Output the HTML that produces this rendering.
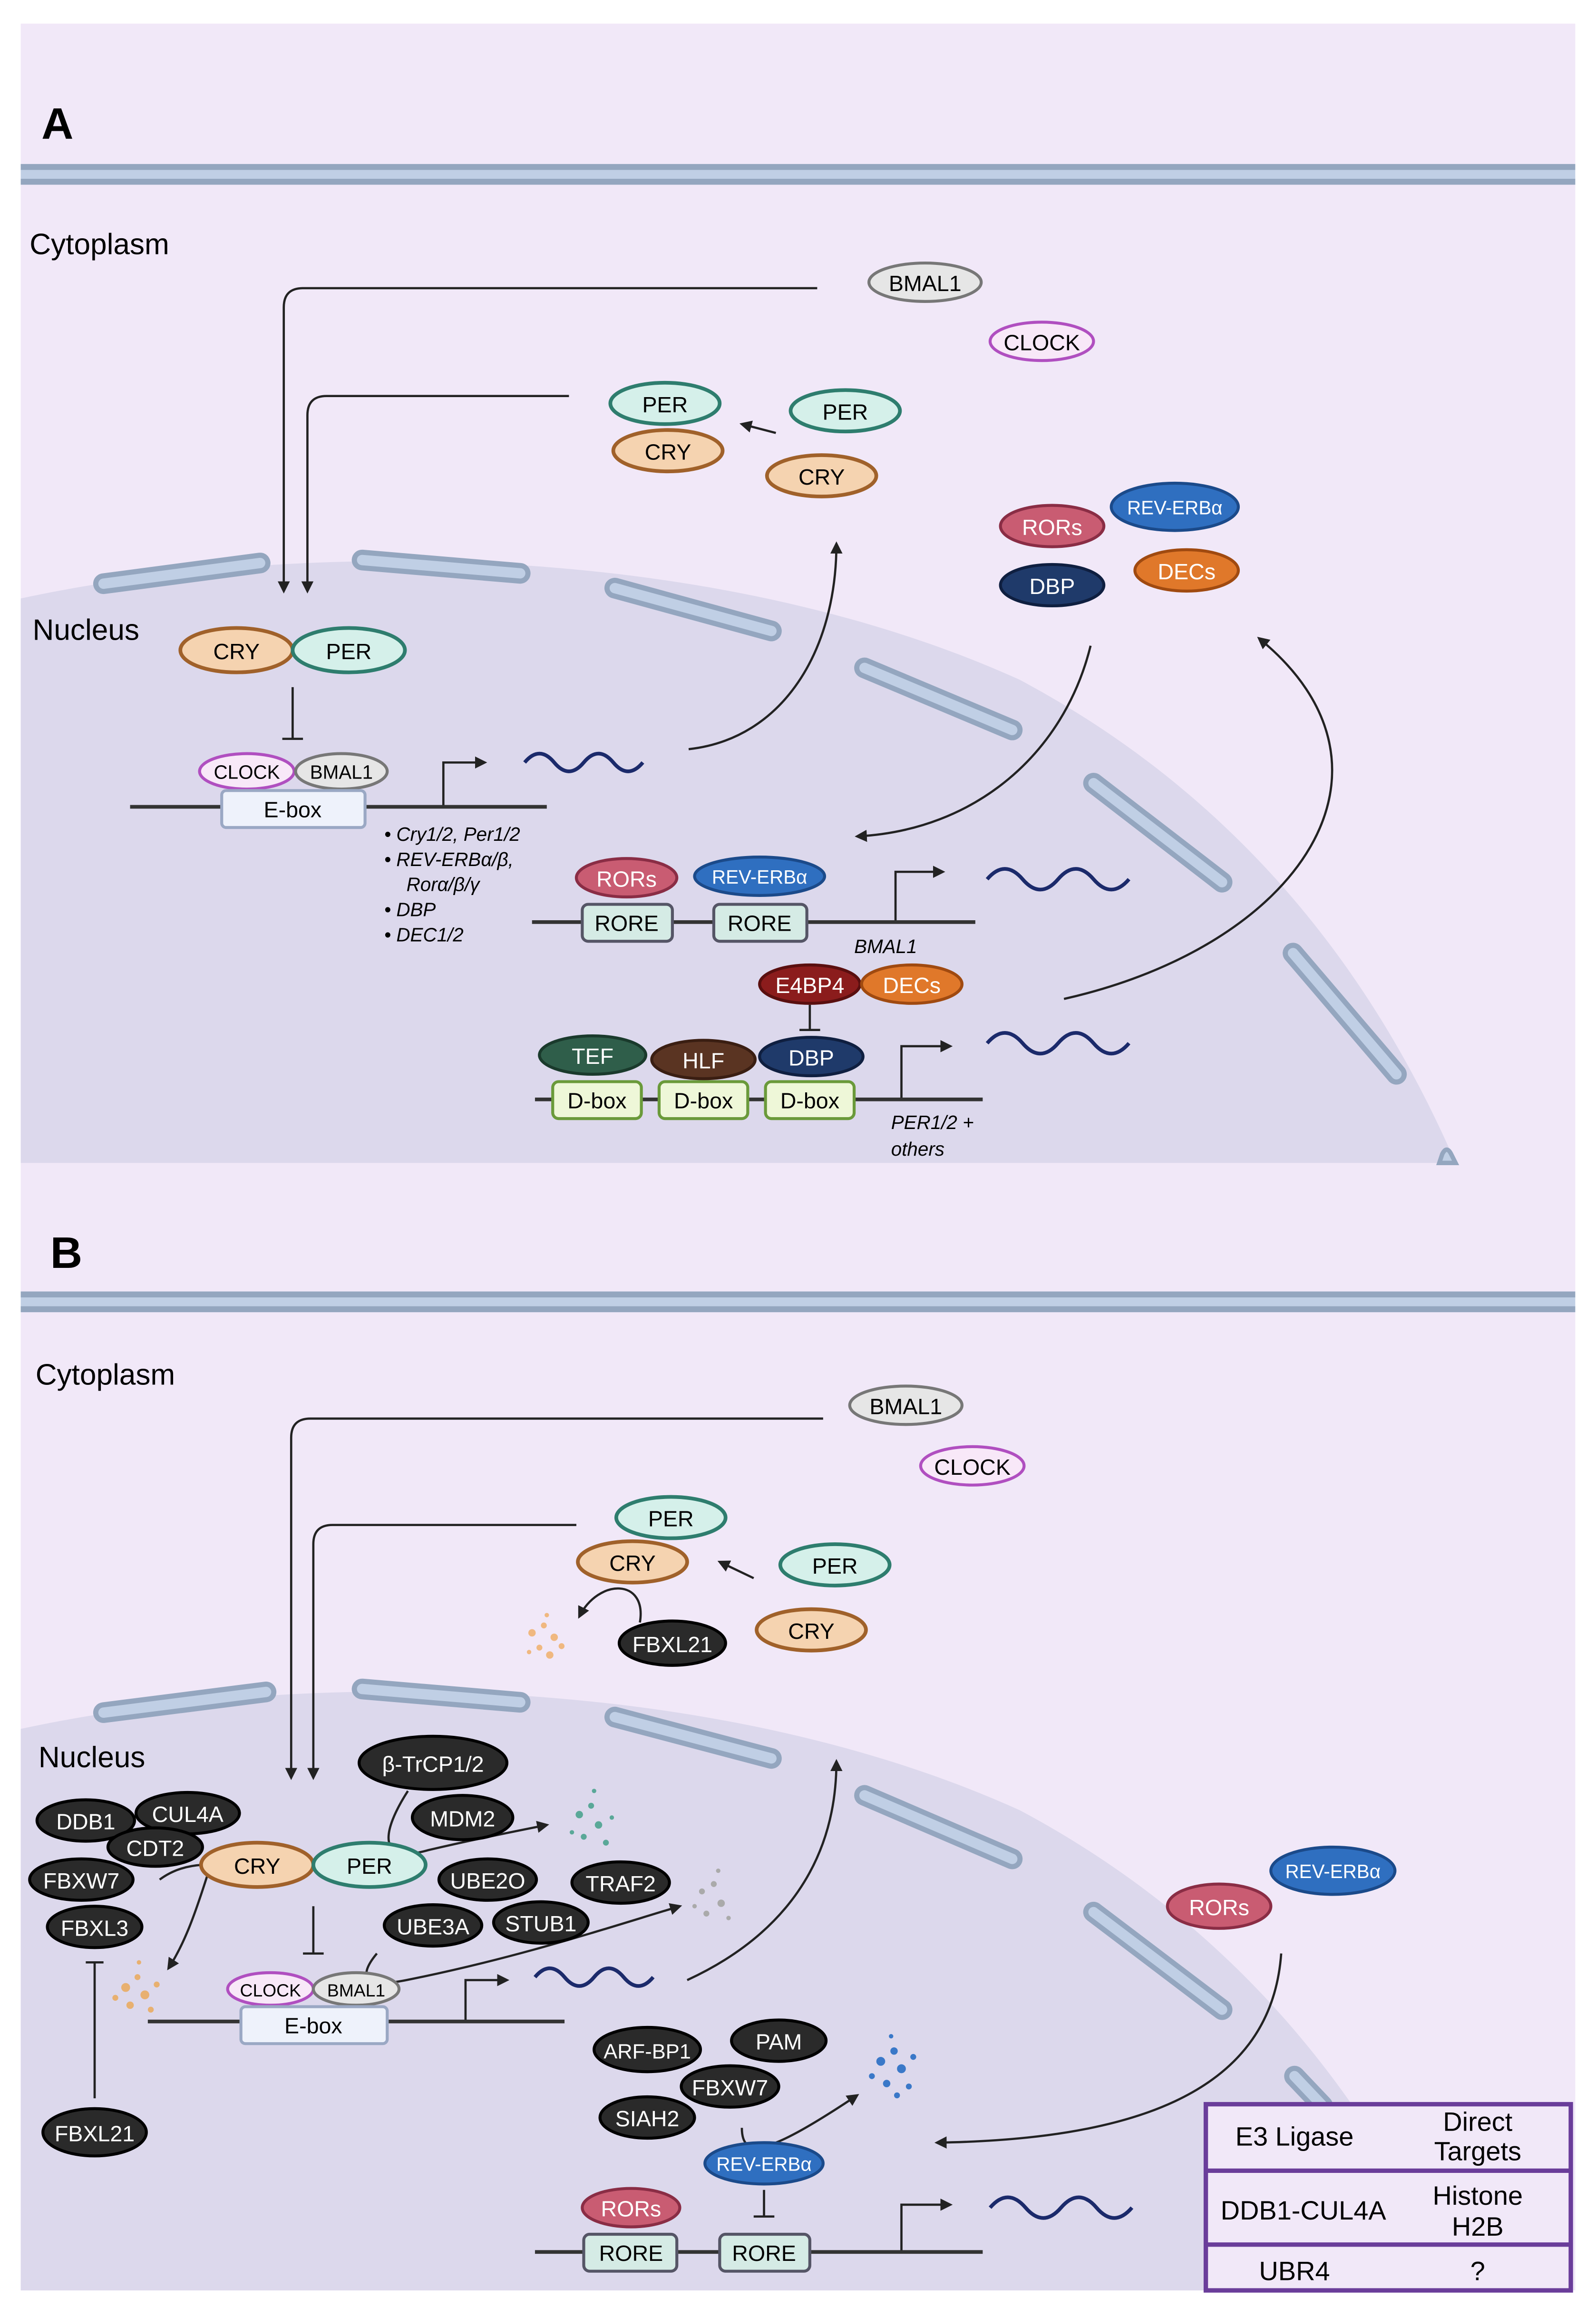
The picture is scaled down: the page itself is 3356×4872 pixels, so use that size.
<!DOCTYPE html>
<html><head><meta charset="utf-8"><style>
html,body{margin:0;padding:0;background:#fff}
svg{display:block}
text{font-family:"Liberation Sans",sans-serif}
</style></head><body>
<svg width="3356" height="4872" viewBox="0 0 1080 1568" xmlns="http://www.w3.org/2000/svg">
<defs>
<marker id="ah" viewBox="0 0 10 10" refX="8" refY="5" markerWidth="5.5" markerHeight="5.5" orient="auto-start-reverse"><path d="M0,0 L10,5 L0,10 Z" fill="#222"/></marker>
</defs>
<rect width="1080" height="1568" fill="#fff"/>
<!-- Panel A -->
<rect x="14" y="16" width="1052" height="1534" fill="#f1e8f8"/>
<path d="M14,405 C200,365 480,365 690,460 C840,540 930,660 985,787 L14,787 Z" fill="#dcd8ec"/>
<rect x="14" y="111" width="1052" height="14" fill="#c0cfe5"/>
<rect x="14" y="111" width="1052" height="4" fill="#94a6bf"/><rect x="14" y="121" width="1052" height="4" fill="#94a6bf"/>
<text x="28" y="94" font-size="30" font-weight="bold">A</text>
<text x="20" y="172" font-size="20">Cytoplasm</text>
<text x="22" y="433" font-size="20">Nucleus</text>
<g fill="#c0cfe5" stroke="#94a6bf" stroke-width="4" stroke-linecap="round">
<line x1="70" y1="395" x2="176" y2="381" stroke-width="14"/><line x1="245" y1="379" x2="352" y2="388" stroke-width="14"/>
<line x1="416" y1="398" x2="522" y2="427" stroke-width="14"/><line x1="585" y1="452" x2="685" y2="494" stroke-width="14"/>
<line x1="740" y1="530" x2="827" y2="597" stroke-width="14"/><line x1="875" y1="645" x2="945" y2="727" stroke-width="14"/>
</g>
<g fill="none" stroke="#c0cfe5" stroke-width="7" stroke-linecap="round">
<line x1="70" y1="395" x2="176" y2="381"/><line x1="245" y1="379" x2="352" y2="388"/>
<line x1="416" y1="398" x2="522" y2="427"/><line x1="585" y1="452" x2="685" y2="494"/>
<line x1="740" y1="530" x2="827" y2="597"/><line x1="875" y1="645" x2="945" y2="727"/>
</g>
<path d="M974,787 L976,781 Q979,775 982,781 L985,787 Z" fill="#c0cfe5" stroke="#94a6bf" stroke-width="3"/>
<!-- arrows A -->
<g fill="none" stroke="#222" stroke-width="1.5">
<path d="M553,195 H205 Q192,195 192,208 V400" marker-end="url(#ah)"/>
<path d="M385,268 H221 Q208,268 208,281 V400" marker-end="url(#ah)"/>
<path d="M525,293 L502,287" marker-end="url(#ah)"/>
<path d="M198,465 V500 M191,500 H205"/>
<path d="M300,546 V516 H328" marker-end="url(#ah)"/>
<path d="M466,507 C530,500 566,440 566,368" marker-end="url(#ah)"/>
<path d="M738,437 C720,510 660,562 580,566" marker-end="url(#ah)"/>
<path d="M606,624 V590 H638" marker-end="url(#ah)"/>
<path d="M548,680 V697 M541,697 H555"/>
<path d="M610,744 V708 H643" marker-end="url(#ah)"/>
<path d="M720,676 C880,640 960,520 852,432" marker-end="url(#ah)"/>
</g>
<g fill="none" stroke="#1b2a6b" stroke-width="2.5">
<path d="M355,516 q10,-12 20,0 t20,0 t20,0 t20,0"/>
<path d="M668,595 q12,-14 24,0 t24,0 t24,0 t24,0"/>
<path d="M668,706 q12,-14 24,0 t24,0 t24,0 t24,0"/>
</g>
<g stroke="#333" stroke-width="2.5"><line x1="88" y1="546" x2="370" y2="546"/><line x1="360" y1="624" x2="660" y2="624"/><line x1="362" y1="744" x2="665" y2="744"/></g>
<g font-size="15" text-anchor="middle">
<ellipse cx="626" cy="191" rx="38" ry="13" fill="#e6e6e6" stroke="#777" stroke-width="2"/><text x="626" y="197">BMAL1</text>
<ellipse cx="705" cy="231" rx="35" ry="13" fill="#f8e8f8" stroke="#b04fc0" stroke-width="2"/><text x="705" y="237">CLOCK</text>
<ellipse cx="450" cy="273" rx="37" ry="14" fill="#d5f0ea" stroke="#2e7d6e" stroke-width="2.5"/><text x="450" y="279">PER</text>
<ellipse cx="452" cy="305" rx="37" ry="14" fill="#f5d3b0" stroke="#a0612a" stroke-width="2.5"/><text x="452" y="311">CRY</text>
<ellipse cx="572" cy="278" rx="37" ry="14" fill="#d5f0ea" stroke="#2e7d6e" stroke-width="2.5"/><text x="572" y="284">PER</text>
<ellipse cx="556" cy="322" rx="37" ry="14" fill="#f5d3b0" stroke="#a0612a" stroke-width="2.5"/><text x="556" y="328">CRY</text>
<ellipse cx="712" cy="356" rx="35" ry="14" fill="#c95c72" stroke="#8a2d45" stroke-width="2"/><text x="712" y="362" fill="#fff">RORs</text>
<ellipse cx="795" cy="343" rx="43" ry="16" fill="#2f6fc0" stroke="#1b4a8a" stroke-width="2"/><text x="795" y="348" fill="#fff" font-size="13">REV-ERBα</text>
<ellipse cx="712" cy="396" rx="35" ry="14" fill="#1f3a6a" stroke="#0f1f40" stroke-width="2"/><text x="712" y="402" fill="#fff">DBP</text>
<ellipse cx="803" cy="386" rx="35" ry="14" fill="#e0782a" stroke="#a04a10" stroke-width="2"/><text x="803" y="392" fill="#fff">DECs</text>
<ellipse cx="160" cy="440" rx="38" ry="15" fill="#f5d3b0" stroke="#a0612a" stroke-width="2.5"/><text x="160" y="446">CRY</text>
<ellipse cx="236" cy="440" rx="38" ry="15" fill="#d5f0ea" stroke="#2e7d6e" stroke-width="2.5"/><text x="236" y="446">PER</text>
<ellipse cx="167" cy="522" rx="32" ry="12" fill="#f8e8f8" stroke="#b04fc0" stroke-width="2"/><text x="167" y="527" font-size="13">CLOCK</text>
<ellipse cx="231" cy="522" rx="31" ry="12" fill="#e6e6e6" stroke="#777" stroke-width="2"/><text x="231" y="527" font-size="13">BMAL1</text>
<rect x="150" y="535" width="97" height="25" rx="3" fill="#eef2fb" stroke="#9aa8c4" stroke-width="2"/><text x="198" y="553">E-box</text>
<ellipse cx="424" cy="594" rx="34" ry="13" fill="#c95c72" stroke="#8a2d45" stroke-width="2"/><text x="424" y="600" fill="#fff">RORs</text>
<ellipse cx="514" cy="593" rx="44" ry="13" fill="#2f6fc0" stroke="#1b4a8a" stroke-width="2"/><text x="514" y="598" fill="#fff" font-size="13">REV-ERBα</text>
<rect x="394" y="612" width="61" height="25" rx="4" fill="#d5ebe5" stroke="#556" stroke-width="2"/><text x="424" y="630">RORE</text>
<rect x="483" y="612" width="63" height="25" rx="4" fill="#d5ebe5" stroke="#556" stroke-width="2"/><text x="514" y="630">RORE</text>
<ellipse cx="548" cy="666" rx="34" ry="13" fill="#8b1c1c" stroke="#5a0f0f" stroke-width="2"/><text x="548" y="672" fill="#fff">E4BP4</text>
<ellipse cx="617" cy="666" rx="34" ry="13" fill="#e0782a" stroke="#a04a10" stroke-width="2"/><text x="617" y="672" fill="#fff">DECs</text>
<ellipse cx="401" cy="714" rx="36" ry="13" fill="#2f5e4a" stroke="#1a3a2c" stroke-width="2"/><text x="401" y="720" fill="#fff">TEF</text>
<ellipse cx="476" cy="717" rx="35" ry="13" fill="#5a3422" stroke="#3a1e12" stroke-width="2"/><text x="476" y="723" fill="#fff">HLF</text>
<ellipse cx="549" cy="715" rx="35" ry="13" fill="#1f3a6a" stroke="#0f1f40" stroke-width="2"/><text x="549" y="721" fill="#fff">DBP</text>
<rect x="374" y="732" width="60" height="25" rx="4" fill="#eef7d8" stroke="#6a9a3a" stroke-width="2"/><text x="404" y="750">D-box</text>
<rect x="446" y="732" width="60" height="25" rx="4" fill="#eef7d8" stroke="#6a9a3a" stroke-width="2"/><text x="476" y="750">D-box</text>
<rect x="518" y="732" width="60" height="25" rx="4" fill="#eef7d8" stroke="#6a9a3a" stroke-width="2"/><text x="548" y="750">D-box</text>
</g>
<g font-size="13" font-style="italic">
<text x="260" y="569">•  Cry1/2, Per1/2</text>
<text x="260" y="586">•  REV-ERBα/β,</text>
<text x="275" y="603">Rorα/β/γ</text>
<text x="260" y="620">•  DBP</text>
<text x="260" y="637">•  DEC1/2</text>
<text x="578" y="645">BMAL1</text>
<text x="603" y="764">PER1/2 +</text>
<text x="603" y="782">others</text>
</g>

<!-- Panel B -->
<path d="M14,1170 C200,1130 480,1130 690,1225 C840,1305 930,1425 985,1550 L14,1550 Z" fill="#dcd8ec"/>
<rect x="14" y="874" width="1052" height="14" fill="#c0cfe5"/>
<rect x="14" y="874" width="1052" height="4" fill="#94a6bf"/><rect x="14" y="884" width="1052" height="4" fill="#94a6bf"/>
<text x="34" y="858" font-size="30" font-weight="bold">B</text>
<text x="24" y="937" font-size="20">Cytoplasm</text>
<text x="26" y="1196" font-size="20">Nucleus</text>
<g stroke="#94a6bf" stroke-width="14" stroke-linecap="round">
<line x1="70" y1="1159" x2="180" y2="1145"/><line x1="245" y1="1143" x2="352" y2="1152"/>
<line x1="416" y1="1162" x2="522" y2="1190"/><line x1="585" y1="1215" x2="685" y2="1258"/>
<line x1="740" y1="1294" x2="827" y2="1360"/><line x1="876" y1="1405" x2="895" y2="1425"/>
</g>
<g stroke="#c0cfe5" stroke-width="7" stroke-linecap="round">
<line x1="70" y1="1159" x2="180" y2="1145"/><line x1="245" y1="1143" x2="352" y2="1152"/>
<line x1="416" y1="1162" x2="522" y2="1190"/><line x1="585" y1="1215" x2="685" y2="1258"/>
<line x1="740" y1="1294" x2="827" y2="1360"/><line x1="876" y1="1405" x2="895" y2="1425"/>
</g>
<g fill="none" stroke="#222" stroke-width="1.5">
<path d="M557,960 H210 Q197,960 197,973 V1203" marker-end="url(#ah)"/>
<path d="M390,1032 H225 Q212,1032 212,1045 V1203" marker-end="url(#ah)"/>
<path d="M510,1068 L487,1057" marker-end="url(#ah)"/>
<path d="M433,1098 C438,1068 405,1068 392,1094" marker-end="url(#ah)"/>
<path d="M212,1290 V1322 M205,1322 H219"/>
<path d="M64,1420 V1328 M58,1328 H70"/>
<path d="M315,1368 V1340 H343" marker-end="url(#ah)"/>
<path d="M465,1340 C530,1310 566,1260 566,1192" marker-end="url(#ah)"/>
<path d="M276,1212 C258,1240 255,1262 290,1252 C320,1245 345,1240 370,1235" marker-end="url(#ah)"/>
<path d="M255,1322 C240,1340 250,1345 275,1340 C350,1325 410,1305 460,1290" marker-end="url(#ah)"/>
<path d="M108,1272 Q120,1263 137,1262"/>
<path d="M140,1270 C132,1295 125,1315 114,1332" marker-end="url(#ah)"/>
<path d="M502,1440 C502,1462 520,1458 580,1418" marker-end="url(#ah)"/>
<path d="M517,1482 V1500 M510,1500 H524"/>
<path d="M610,1524 V1492 H643" marker-end="url(#ah)"/>
<path d="M867,1322 C860,1420 760,1448 634,1450" marker-end="url(#ah)"/>
</g>
<g fill="none" stroke="#1b2a6b" stroke-width="2.5">
<path d="M362,1338 q10,-12 20,0 t20,0 t20,0 t20,0"/>
<path d="M670,1494 q12,-14 24,0 t24,0 t24,0 t24,0"/>
</g>
<g stroke="#333" stroke-width="2.5"><line x1="100" y1="1368" x2="382" y2="1368"/><line x1="362" y1="1524" x2="665" y2="1524"/></g>
<g fill="#f0b880"><circle cx="360" cy="1105" r="2.5"/><circle cx="368" cy="1100" r="2"/><circle cx="375" cy="1108" r="2.5"/><circle cx="365" cy="1115" r="2"/><circle cx="372" cy="1120" r="2.5"/><circle cx="358" cy="1118" r="1.5"/><circle cx="380" cy="1114" r="2"/><circle cx="370" cy="1093" r="1.5"/></g>
<g fill="#e8b070"><circle cx="85" cy="1345" r="3"/><circle cx="93" cy="1338" r="2"/><circle cx="98" cy="1350" r="3"/><circle cx="88" cy="1357" r="2.5"/><circle cx="102" cy="1360" r="2"/><circle cx="78" cy="1352" r="2"/><circle cx="94" cy="1328" r="1.5"/><circle cx="106" cy="1343" r="2"/></g>
<g fill="#5aa898"><circle cx="392" cy="1228" r="2.5"/><circle cx="400" cy="1222" r="2"/><circle cx="405" cy="1235" r="2.5"/><circle cx="395" cy="1243" r="2"/><circle cx="410" cy="1247" r="2"/><circle cx="387" cy="1240" r="1.5"/><circle cx="402" cy="1212" r="1.5"/><circle cx="414" cy="1230" r="1.5"/></g>
<g fill="#aaa"><circle cx="475" cy="1280" r="2"/><circle cx="483" cy="1275" r="2"/><circle cx="488" cy="1288" r="2.5"/><circle cx="478" cy="1295" r="2"/><circle cx="493" cy="1298" r="1.5"/><circle cx="470" cy="1290" r="1.5"/><circle cx="486" cy="1266" r="1.5"/></g>
<g fill="#3a78c8"><circle cx="596" cy="1395" r="3"/><circle cx="605" cy="1388" r="2.5"/><circle cx="610" cy="1400" r="3"/><circle cx="600" cy="1410" r="2.5"/><circle cx="615" cy="1412" r="2"/><circle cx="590" cy="1405" r="2"/><circle cx="603" cy="1378" r="1.5"/><circle cx="618" cy="1392" r="2"/><circle cx="607" cy="1418" r="2"/></g>
<g font-size="15" text-anchor="middle">
<ellipse cx="613" cy="951" rx="38" ry="13" fill="#e6e6e6" stroke="#777" stroke-width="2"/><text x="613" y="957">BMAL1</text>
<ellipse cx="658" cy="992" rx="35" ry="13" fill="#f8e8f8" stroke="#b04fc0" stroke-width="2"/><text x="658" y="998">CLOCK</text>
<ellipse cx="454" cy="1027" rx="37" ry="14" fill="#d5f0ea" stroke="#2e7d6e" stroke-width="2.5"/><text x="454" y="1033">PER</text>
<ellipse cx="428" cy="1057" rx="37" ry="14" fill="#f5d3b0" stroke="#a0612a" stroke-width="2.5"/><text x="428" y="1063">CRY</text>
<ellipse cx="565" cy="1059" rx="37" ry="14" fill="#d5f0ea" stroke="#2e7d6e" stroke-width="2.5"/><text x="565" y="1065">PER</text>
<ellipse cx="549" cy="1103" rx="37" ry="14" fill="#f5d3b0" stroke="#a0612a" stroke-width="2.5"/><text x="549" y="1109">CRY</text>
<g fill="#2a2a2a" stroke="#000" stroke-width="2">
<ellipse cx="455" cy="1112" rx="36" ry="15"/><ellipse cx="293" cy="1193" rx="50" ry="18"/><ellipse cx="313" cy="1230" rx="34" ry="15"/>
<ellipse cx="58" cy="1232" rx="33" ry="14"/><ellipse cx="127" cy="1227" rx="35" ry="14"/><ellipse cx="105" cy="1250" rx="32" ry="13"/>
<ellipse cx="55" cy="1272" rx="35" ry="14"/><ellipse cx="64" cy="1304" rx="32" ry="14"/><ellipse cx="330" cy="1272" rx="33" ry="14"/>
<ellipse cx="420" cy="1274" rx="33" ry="14"/><ellipse cx="293" cy="1303" rx="33" ry="14"/><ellipse cx="366" cy="1301" rx="32" ry="14"/>
<ellipse cx="64" cy="1443" rx="35" ry="16"/><ellipse cx="438" cy="1387" rx="36" ry="15"/><ellipse cx="527" cy="1381" rx="32" ry="14"/>
<ellipse cx="494" cy="1412" rx="33" ry="14"/><ellipse cx="438" cy="1433" rx="32" ry="14"/>
</g>
<g fill="#fff">
<text x="455" y="1118">FBXL21</text><text x="293" y="1199">β-TrCP1/2</text><text x="313" y="1236">MDM2</text>
<text x="58" y="1238">DDB1</text><text x="127" y="1233">CUL4A</text><text x="105" y="1256">CDT2</text>
<text x="55" y="1278">FBXW7</text><text x="64" y="1310">FBXL3</text><text x="330" y="1278">UBE2O</text>
<text x="420" y="1280">TRAF2</text><text x="293" y="1309">UBE3A</text><text x="366" y="1307">STUB1</text>
<text x="64" y="1449">FBXL21</text><text x="438" y="1393" font-size="14">ARF-BP1</text><text x="527" y="1387">PAM</text>
<text x="494" y="1418">FBXW7</text><text x="438" y="1439">SIAH2</text>
</g>
<ellipse cx="174" cy="1262" rx="38" ry="15" fill="#f5d3b0" stroke="#a0612a" stroke-width="2.5"/><text x="174" y="1268">CRY</text>
<ellipse cx="250" cy="1262" rx="38" ry="15" fill="#d5f0ea" stroke="#2e7d6e" stroke-width="2.5"/><text x="250" y="1268">PER</text>
<ellipse cx="183" cy="1346" rx="29" ry="11" fill="#f8e8f8" stroke="#b04fc0" stroke-width="2"/><text x="183" y="1351" font-size="12">CLOCK</text>
<ellipse cx="241" cy="1346" rx="29" ry="11" fill="#e6e6e6" stroke="#777" stroke-width="2"/><text x="241" y="1351" font-size="12">BMAL1</text>
<rect x="163" y="1358" width="99" height="25" rx="3" fill="#eef2fb" stroke="#9aa8c4" stroke-width="2"/><text x="212" y="1376">E-box</text>
<ellipse cx="517" cy="1464" rx="40" ry="14" fill="#2f6fc0" stroke="#1b4a8a" stroke-width="2"/><text x="517" y="1469" fill="#fff" font-size="13">REV-ERBα</text>
<ellipse cx="427" cy="1494" rx="33" ry="13" fill="#c95c72" stroke="#8a2d45" stroke-width="2"/><text x="427" y="1500" fill="#fff">RORs</text>
<rect x="395" y="1512" width="63" height="25" rx="4" fill="#d5ebe5" stroke="#556" stroke-width="2"/><text x="427" y="1530">RORE</text>
<rect x="487" y="1512" width="61" height="25" rx="4" fill="#d5ebe5" stroke="#556" stroke-width="2"/><text x="517" y="1530">RORE</text>
<ellipse cx="825" cy="1290" rx="35" ry="15" fill="#c95c72" stroke="#8a2d45" stroke-width="2"/><text x="825" y="1296" fill="#fff">RORs</text>
<ellipse cx="902" cy="1266" rx="42" ry="16" fill="#2f6fc0" stroke="#1b4a8a" stroke-width="2"/><text x="902" y="1271" fill="#fff" font-size="13">REV-ERBα</text>
</g>
<rect x="816" y="1424" width="247" height="126" fill="#f1e8f8" stroke="#6a3d9a" stroke-width="3"/>
<line x1="816" y1="1469" x2="1063" y2="1469" stroke="#6a3d9a" stroke-width="3"/>
<line x1="816" y1="1519" x2="1063" y2="1519" stroke="#6a3d9a" stroke-width="3"/>
<g font-size="18" text-anchor="middle">
<text x="876" y="1452">E3 Ligase</text><text x="1000" y="1442">Direct</text><text x="1000" y="1462">Targets</text>
<text x="882" y="1502">DDB1-CUL4A</text><text x="1000" y="1492">Histone</text><text x="1000" y="1513">H2B</text>
<text x="876" y="1543">UBR4</text><text x="1000" y="1543">?</text>
</g>
</svg>
</body></html>
